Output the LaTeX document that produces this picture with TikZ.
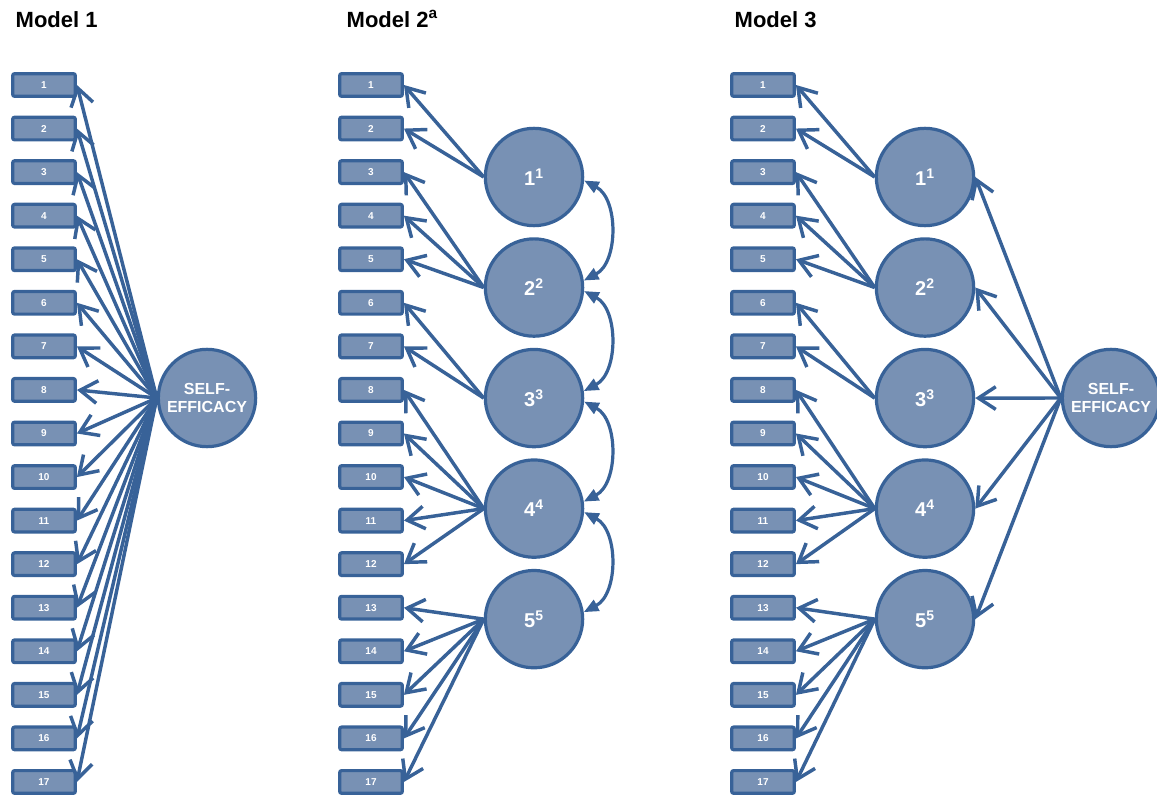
\documentclass[tikz,border=0pt]{standalone}
\usepackage{fontspec}
\setmainfont{Liberation Sans}
\usetikzlibrary{arrows.meta,positioning}

\definecolor{boxfill}{RGB}{120,145,180}
\definecolor{boxline}{RGB}{56,98,152}

\begin{document}
\begin{tikzpicture}[x=0.75pt,y=-0.75pt,on grid,node distance=32.67pt]
		\tikzset{
			item/.style={draw=boxline,fill=boxfill,line width=2.4pt,rounded corners=1.5pt,
				minimum width=47pt,minimum height=17pt,inner sep=0pt,text=white,
				font=\fontsize{7.5}{9}\selectfont\bfseries},
			factor/.style={circle,draw=boxline,fill=boxfill,line width=2.4pt,minimum size=73pt,
				inner sep=0pt,text=white,font=\fontsize{15}{18}\selectfont\bfseries},
			general/.style={factor,align=center,font=\fontsize{12}{13}\selectfont\bfseries},
			load/.style={color=boxline,line width=2.6pt,-{Straight Barb[length=13pt,width=17pt]}},
			cov/.style={color=boxline,line width=2.4pt,{Triangle[length=11pt,width=9pt]}-{Triangle[length=11pt,width=9pt]}},
			title/.style={anchor=base west,font=\fontsize{16.5}{20}\selectfont\bfseries}
		}
		\useasboundingbox (0,0) rectangle (1157,796);
		
		\node[title] (t_a) at (11,27)  {Model 1};
		\node[title] (t_b) at (342,27) {Model 2\textsuperscript{a}};
		\node[title] (t_c) at (730,27) {Model 3};
		
		% Model 1
		\node[general] (se_a) at (207,398) {SELF-\\EFFICACY};
		\node[item]    (a_1)  at (44,85)   {1};
		\foreach \i [remember=\i as \j (initially 1)] in {2,...,17}
		\node[item] (a_\i) [below=of a_\j] {\i};
		\foreach \i in {1,...,17}
		\path[load] (se_a.west) edge (a_\i.east);
		
		% Model 2
		\node[item]   (b_1) at (371,85)  {1};
		\node[factor] (f_1) at (534,177) {1\textsuperscript{1}};
		\foreach \i [remember=\i as \j (initially 1)] in {2,...,17}
		\node[item] (b_\i) [below=of b_\j] {\i};
		\foreach \i [remember=\i as \j (initially 1)] in {2,...,5}
		\node[factor] (f_\i) [below=82.9pt of f_\j] {\i\textsuperscript{\i}};
		\foreach \i/\f in {1/1,2/1,3/2,4/2,5/2,6/3,7/3,8/4,9/4,10/4,11/4,12/4,13/5,14/5,15/5,16/5,17/5}
		\path[load] (f_\f.west) edge (b_\i.east);
		\foreach \f [remember=\f as \g (initially 1)] in {2,...,5}
		\path[cov] (f_\g.-4) edge [bend left=62] (f_\f.8);
		
		% Model 3
		\node[item]    (c_1)  at (763,85)   {1};
		\node[factor]  (g_1)  at (925,177)  {1\textsuperscript{1}};
		\node[general] (se_c) at (1111,398) {SELF-\\EFFICACY};
		\foreach \i [remember=\i as \j (initially 1)] in {2,...,17}
		\node[item] (c_\i) [below=of c_\j] {\i};
		\foreach \i [remember=\i as \j (initially 1)] in {2,...,5}
		\node[factor] (g_\i) [below=82.9pt of g_\j] {\i\textsuperscript{\i}};
		\foreach \i/\f in {1/1,2/1,3/2,4/2,5/2,6/3,7/3,8/4,9/4,10/4,11/4,12/4,13/5,14/5,15/5,16/5,17/5}
		\path[load] (g_\f.west) edge (c_\i.east);
		\foreach \f in {1,...,5}
		\path[load] (se_c.west) edge (g_\f.east);
		
\end{tikzpicture}
\end{document}
